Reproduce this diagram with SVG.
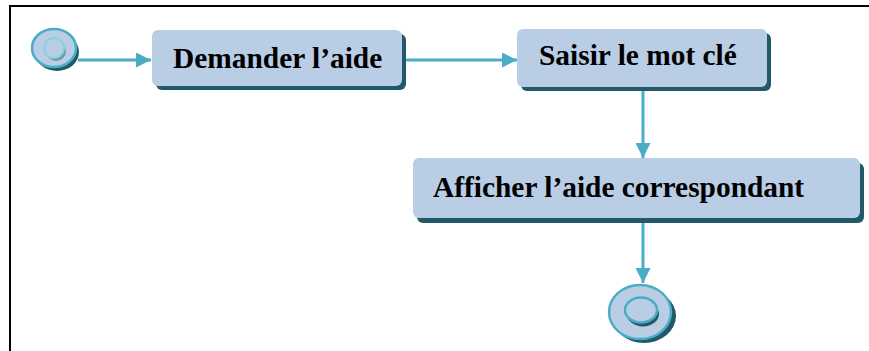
<svg xmlns="http://www.w3.org/2000/svg" width="869" height="351" viewBox="0 0 869 351">
  <defs>
    <marker id="arrow" viewBox="0 0 10 10" refX="10" refY="5" markerWidth="5" markerHeight="5" markerUnits="strokeWidth" orient="auto">
      <path d="M0,0 L10,5 L0,10 Z" fill="#4bacc6"/>
    </marker>
  </defs>
  <style>
    .frame { fill: none; stroke: #000; stroke-width: 2; }
    .box { fill: #b9cde5; }
    .shadow { fill: #215968; }
    .label { font-family: "Liberation Serif", "Times New Roman", serif; font-weight: bold; font-size: 29.4px; fill: #000; }
    .edge { fill: none; stroke: #4bacc6; stroke-width: 3; marker-end: url(#arrow); }
    .ring { fill: #b9cde5; stroke: #4bacc6; stroke-width: 2.5; }
  </style>
  <rect width="869" height="351" fill="#fff"/>
  <path class="frame" d="M10,351 V6 H869"/>

  <g id="connectors">
    <line class="edge" x1="78" y1="60" x2="151" y2="60"/>
    <line class="edge" x1="406" y1="60" x2="517" y2="60"/>
    <line class="edge" x1="643" y1="90" x2="643" y2="158"/>
    <line class="edge" x1="643" y1="221" x2="643" y2="283"/>
  </g>

  <g id="start">
    <ellipse class="shadow" cx="57" cy="52" rx="22" ry="19"/>
    <ellipse class="ring" cx="54" cy="48" rx="22" ry="19"/>
    <ellipse cx="56" cy="51" rx="10" ry="10" fill="#6f96a6"/>
    <ellipse cx="54" cy="48" rx="10" ry="10" fill="#b9cde5" stroke="#86d3df" stroke-width="2"/>
  </g>

  <g id="demander">
    <rect class="shadow" x="156" y="34" width="250" height="56" rx="6"/>
    <rect class="box" x="152" y="30" width="250" height="56" rx="6"/>
    <text class="label" x="173" y="68">Demander l’aide</text>
  </g>

  <g id="saisir">
    <rect class="shadow" x="521" y="33" width="250" height="58" rx="6"/>
    <rect class="box" x="517" y="29" width="250" height="58" rx="6"/>
    <text class="label" x="539" y="65">Saisir le mot clé</text>
  </g>

  <g id="afficher">
    <rect class="shadow" x="417" y="163" width="447" height="60" rx="6"/>
    <rect class="box" x="413" y="158" width="447" height="60" rx="6"/>
    <text class="label" x="433" y="197">Afficher l’aide correspondant</text>
  </g>

  <g id="end">
    <ellipse class="shadow" cx="644" cy="316" rx="32" ry="27"/>
    <ellipse class="ring" cx="640" cy="312" rx="31" ry="27"/>
    <ellipse class="shadow" cx="643" cy="314" rx="16" ry="12.5"/>
    <ellipse class="ring" cx="641" cy="310" rx="16" ry="12.5"/>
  </g>
</svg>
